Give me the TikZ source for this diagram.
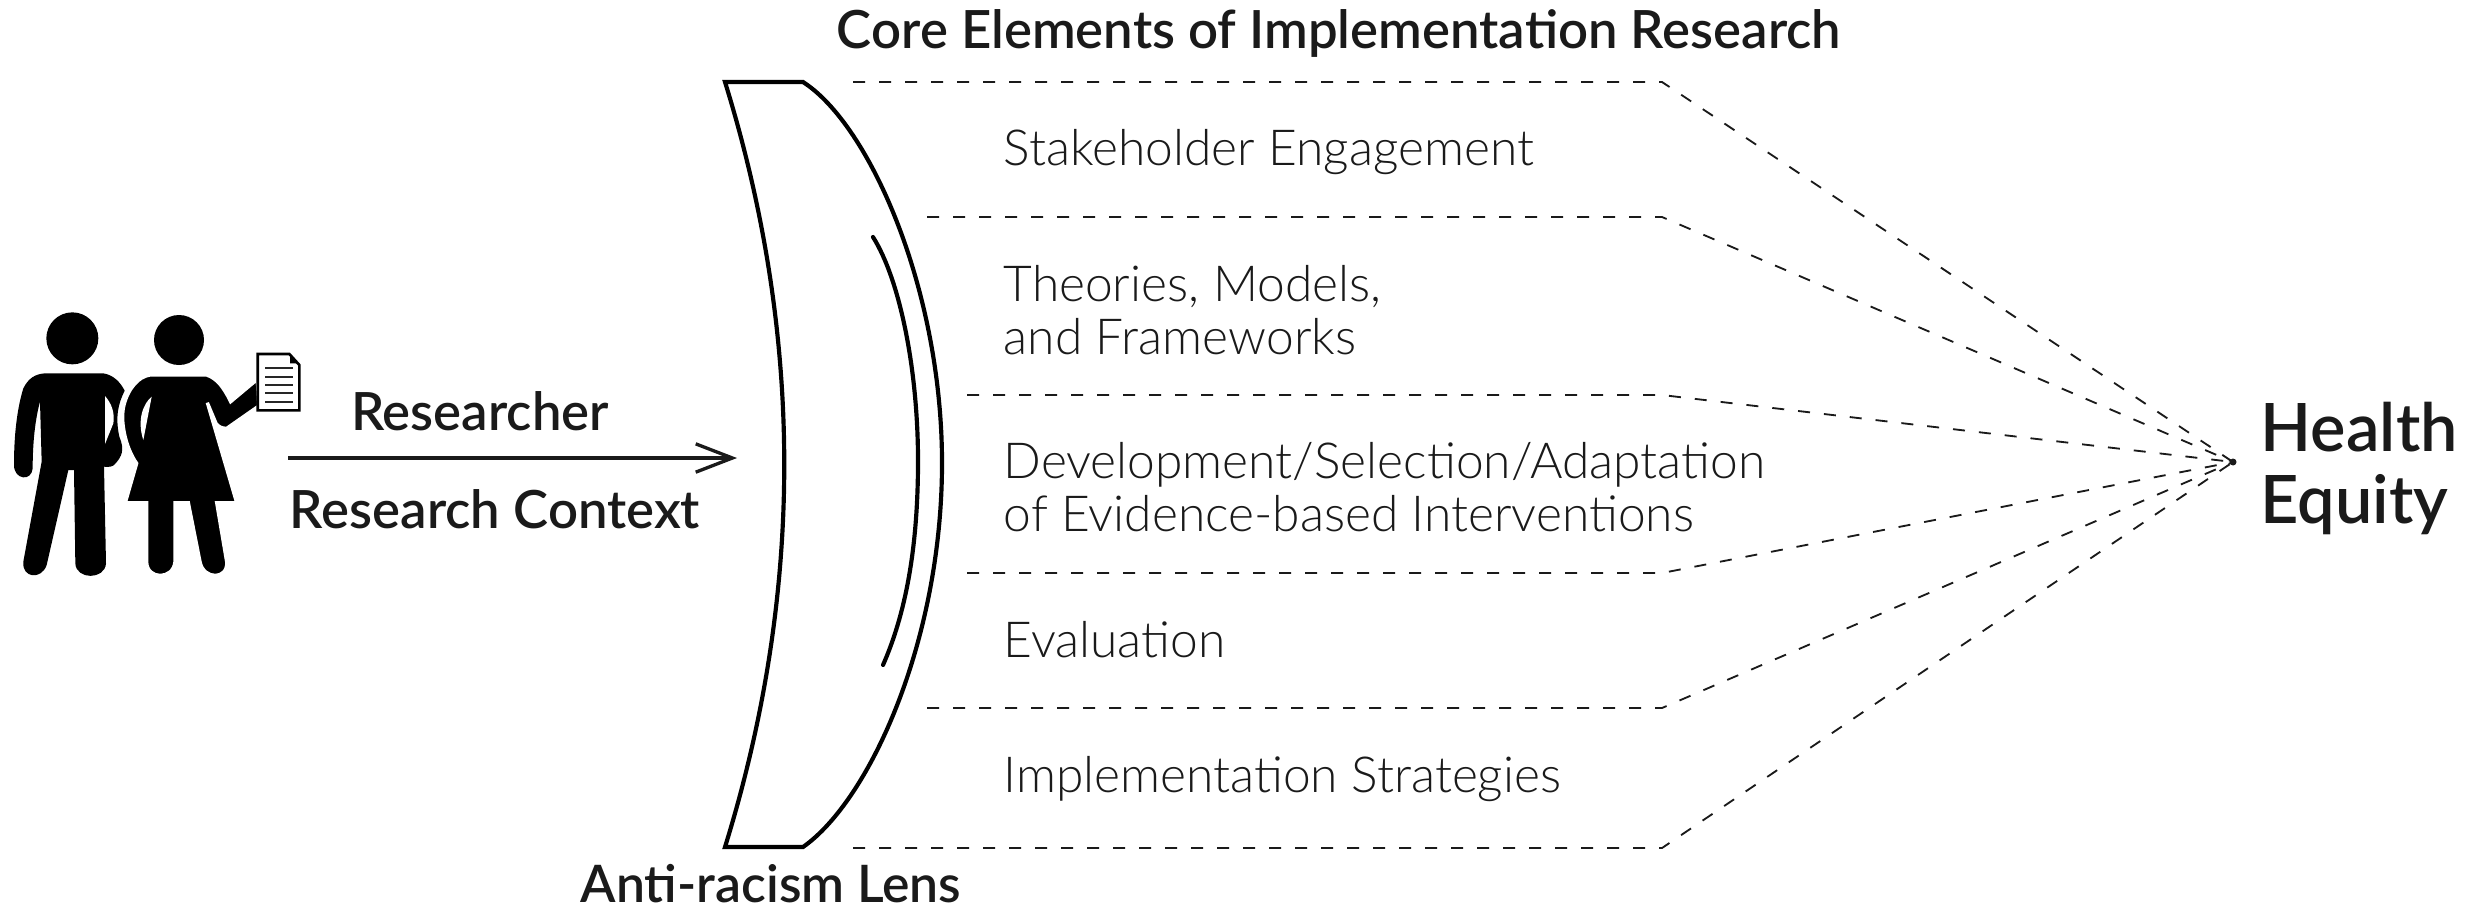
\documentclass[tikz,border=0pt]{standalone}
\usepackage{fontspec}
\setmainfont{Lato}
\newfontfamily\lightfont{Lato Light}
\newfontfamily\medfont{Lato Semibold}
\usetikzlibrary{arrows.meta}
\definecolor{ink}{HTML}{1A1A1A}
\tikzset{
  x=0.3pt,y=-0.3pt,
  lensline/.style={draw=black,line width=1.25pt,line join=miter},
  guideline/.style={draw=ink,line width=0.55pt,dash pattern=on 3.6pt off 4.2pt},
  itemtext/.style={anchor=west,inner sep=0pt,align=left,text=ink,font=\lightfont\fontsize{14.9}{16}\selectfont},
  headtext/.style={anchor=center,inner sep=0pt,text=ink,font=\medfont\fontsize{15.8}{17}\selectfont},
  bigtext/.style={anchor=west,inner sep=0pt,align=left,text=ink,font=\medfont\fontsize{20}{21.6}\selectfont},
  silhouette/.style={fill=black,draw=none},
  halo/.style={fill=black,draw=white,line width=1pt},
  flowarrow/.style={draw=ink,line width=1pt,-{Straight Barb[length=11pt,width=8.5pt,line width=1pt]}},
}
\begin{document}
\begin{tikzpicture}
\useasboundingbox (0,0) rectangle (2466,914);
\fill[white] (0,0) rectangle (2466,914);

% people
\begin{scope}[shift={(0,280)},x=0.1pt,y=-0.1pt]
  \fill[silhouette] (217,175) circle[radius=78];
  \path[silhouette] (135,280) -- (310,280) .. controls (340,285) and (360,305) .. (374,332)
    .. controls (355,370) and (345,410) .. (358,470) .. controls (375,510) and (365,530) .. (345,552)
    .. controls (340,560) and (325,562) .. (312,560) -- (318,850)
    .. controls (315,900) and (228,900) .. (226,850) -- (222,570) -- (205,570) -- (140,855)
    .. controls (125,900) and (65,895) .. (70,845) -- (125,545) -- (120,365)
    .. controls (105,420) and (98,490) .. (98,565) .. controls (95,605) and (42,600) .. (42,555)
    .. controls (42,470) and (50,390) .. (70,325) .. controls (85,295) and (105,282) .. (135,280) -- cycle;
  \fill[white] (315,348) .. controls (335,370) and (345,400) .. (340,430) -- (315,492) -- cycle;

  \fill[silhouette] (537,180) circle[radius=75];
  \path[halo] (450,285) -- (620,285) .. controls (650,295) and (670,320) .. (692,365)
    -- (772,298) -- (776,378) -- (680,445) .. controls (665,445) and (655,440) .. (648,430)
    -- (622,368) -- (710,668) -- (650,668) -- (680,845) .. controls (685,900) and (610,900) .. (600,845)
    -- (565,668) -- (525,668) -- (525,845) .. controls (520,900) and (440,900) .. (440,845)
    -- (440,668) -- (376,668) -- (410,550) .. controls (375,500) and (360,420) .. (372,375)
    .. controls (385,325) and (415,290) .. (450,285) -- cycle;
  \fill[white] (455,350) .. controls (430,370) and (410,420) .. (430,480) -- cycle;

  \draw[black,fill=white,line width=0.8pt] (773,222) -- (868,222) -- (898,255) -- (898,391) -- (773,391) -- cycle;
  \fill[black] (870,226) -- (895,250) -- (870,250) -- cycle;
  \foreach \yy in {265,290,315,340,365} \draw[black!85,line width=0.55pt] (795,\yy) -- (878,\yy);
\end{scope}

% lens
\coordinate (lensTL) at (725,82);
\coordinate (lensTR) at (803,82);
\coordinate (lensBR) at (803,847);
\coordinate (lensBL) at (725,847);
\coordinate (lensR) at (942,463);
\path[lensline] (lensTL) -- (lensTR) .. controls (870,125) and (942,290) .. (lensR)
  .. controls (942,640) and (870,800) .. (lensBR) -- (lensBL)
  .. controls (804,592) and (804,337) .. cycle;
\draw[lensline,line cap=round] (873,237) .. controls (900,280) and (918,370) .. (918,461)
  .. controls (918,550) and (905,615) .. (883,665);

% arrow
\coordinate (arrowS) at (288,458);
\coordinate (arrowE) at (737,458);
\draw[flowarrow] (arrowS) -- (arrowE);

% guide lines
\coordinate (apex) at (2233,462);
\foreach \nm/\sx/\yy in {a/853/82,b/927/217,c/967/395,d/967/573,e/927/708,f/853/848}{
  \coordinate (s\nm) at (\sx,\yy);
  \coordinate (m\nm) at (1662,\yy);
  \draw[guideline] (s\nm) -- (m\nm) -- (apex);
}
\fill[ink] (apex) circle[radius=3.5];

% text
\node[headtext] (title) at (1339,33) {Core Elements of Implementation Research};
\node[itemtext] (i1) at (1003,152) {Stakeholder Engagement};
\node[itemtext] (i2) at (1003,310) {Theories, Models,\\and Frameworks};
\node[itemtext] (i3) at (1003,487) {Development/Selection/Adaptation\\of Evidence-based Interventions};
\node[itemtext] (i4) at (1003,640) {Evaluation};
\node[itemtext] (i5) at (1003,779) {Implementation Strategies};
\node[headtext] (res) at (480,411) {Researcher};
\node[headtext] (ctx) at (495,509) {Research Context};
\node[headtext,font=\medfont\fontsize{15.5}{17}\selectfont] (lens) at (771,884) {Anti-racism Lens};
\node[bigtext] (he) at (2260,468) {Health\\Equity};
\end{tikzpicture}
\end{document}
